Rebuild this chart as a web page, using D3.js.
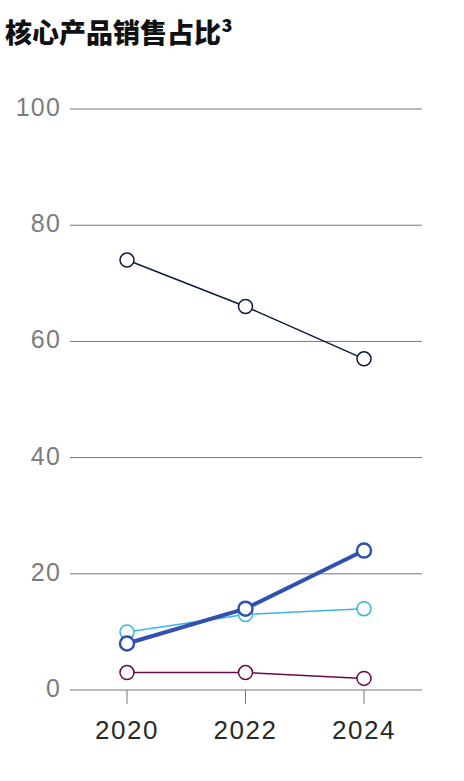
<!DOCTYPE html>
<html>
<head>
<meta charset="utf-8">
<title>核心产品销售占比</title>
<script src="https://cdnjs.cloudflare.com/ajax/libs/d3/7.8.5/d3.min.js"></script>
<style>
  body { margin: 0; background: #fff; }
  .title { font-family: "Noto Sans CJK SC", sans-serif; font-weight: 900; font-size: 27px; fill: #111; }
  .ylab { font-family: "Liberation Sans", Arial, sans-serif; font-size: 25px; letter-spacing: 1.2px; fill: #7c7c7c; }
  .xlab { font-family: "Liberation Sans", Arial, sans-serif; font-size: 26px; letter-spacing: 1.5px; fill: #2a2a2a; }
</style>
</head>
<body>
<svg id="chart" width="464" height="781"></svg>
<script>
// data
var years = [2020, 2022, 2024];
var yTicks = [0, 20, 40, 60, 80, 100];
var seriesNavy = [74, 66, 57];
var seriesBlue = [8, 14, 24];
var seriesCyan = [10, 13, 14];
var seriesPurple = [3, 3, 2];

var series = [
  { values: seriesCyan, color: "#3bb3e3", width: 1.5, ring: 1.5 },
  { values: seriesPurple, color: "#650d4f", width: 1.5, ring: 1.5 },
  { values: seriesNavy, color: "#0e1a3c", width: 1.5, ring: 1.5 },
  { values: seriesBlue, color: "#3150b0", width: 4, ring: 2.5 }
];

var svg = d3.select("#chart");

var x = d3.scalePoint().domain(years).range([127, 364]);
var y = d3.scaleLinear().domain([0, 100]).range([690, 109]);

svg.append("text")
  .attr("class", "title")
  .attr("x", 5)
  .attr("y", 43)
  .text("核心产品销售占比³");

// gridlines
svg.append("g")
  .selectAll("line")
  .data(yTicks)
  .enter().append("line")
    .attr("x1", 70).attr("x2", 422)
    .attr("y1", function(d) { return y(d); })
    .attr("y2", function(d) { return y(d); })
    .attr("stroke", "#777")
    .attr("stroke-width", 1);

svg.append("g")
  .selectAll("text")
  .data(yTicks)
  .enter().append("text")
    .attr("class", "ylab")
    .attr("x", 61)
    .attr("y", function(d) { return y(d) + 7; })
    .attr("text-anchor", "end")
    .text(function(d) { return d; });

// x ticks
svg.append("g")
  .selectAll("line")
  .data(years)
  .enter().append("line")
    .attr("x1", function(d) { return x(d); })
    .attr("x2", function(d) { return x(d); })
    .attr("y1", y(0)).attr("y2", y(0) + 14)
    .attr("stroke", "#777");

svg.append("g")
  .selectAll("text")
  .data(years)
  .enter().append("text")
    .attr("class", "xlab")
    .attr("x", function(d) { return x(d); })
    .attr("y", 739)
    .attr("text-anchor", "middle")
    .text(function(d) { return d; });

var line = d3.line()
  .x(function(d, i) { return x(years[i]); })
  .y(function(d) { return y(d); });

series.forEach(function(s) {
  var g = svg.append("g");
  g.append("path")
    .datum(s.values)
    .attr("d", line)
    .attr("fill", "none")
    .attr("stroke", s.color)
    .attr("stroke-width", s.width);
  g.selectAll("circle")
    .data(s.values)
    .enter().append("circle")
      .attr("cx", function(d, i) { return x(years[i]); })
      .attr("cy", function(d) { return y(d); })
      .attr("r", 7)
      .attr("fill", "#fff")
      .attr("stroke", s.color)
      .attr("stroke-width", s.ring);
});
</script>
</body>
</html>
